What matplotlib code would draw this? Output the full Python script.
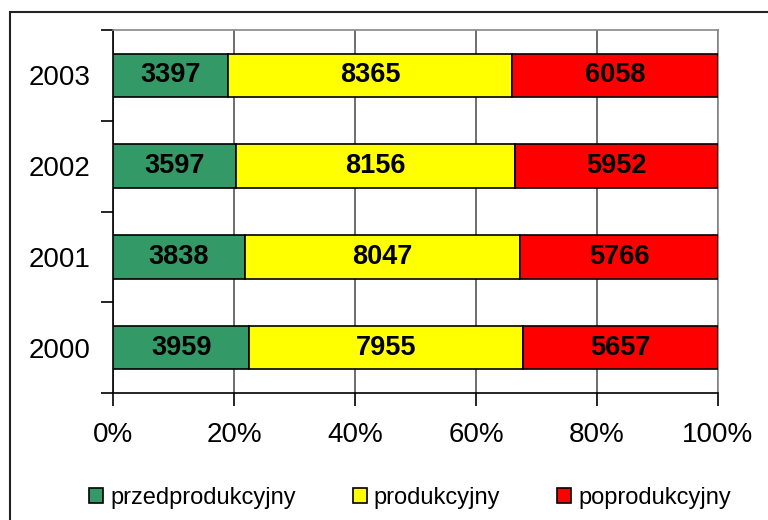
import matplotlib
matplotlib.use("Agg")
import matplotlib.pyplot as plt
from matplotlib.patches import Rectangle
import numpy as np

plt.rcParams['font.family'] = ['Liberation Sans', 'DejaVu Sans']

years = ['2000', '2001', '2002', '2003']
przed = [3959, 3838, 3597, 3397]
prod = [7955, 8047, 8156, 8365]
poprod = [5657, 5766, 5952, 6058]

series = [
    ('przedprodukcyjny', przed, '#339966'),
    ('produkcyjny', prod, '#FFFF00'),
    ('poprodukcyjny', poprod, '#FF0000'),
]

totals = np.array(przed) + np.array(prod) + np.array(poprod)

fig = plt.figure(figsize=(7.68, 5.2), dpi=100)
ax = fig.add_axes([113 / 768, 1 - 393 / 520, 605 / 768, 363 / 520])

y = np.arange(len(years))
left = np.zeros(len(years))
handles = []
for name, vals, color in series:
    share = np.array(vals) / totals * 100
    bars = ax.barh(y, share, left=left, height=0.48, color=color,
                   edgecolor='black', linewidth=1.2, label=name, zorder=3)
    ax.bar_label(bars, labels=[str(v) for v in vals], label_type='center',
                 fontsize=19.5, fontweight='bold', color='black')
    left += share
    handles.append(bars)

ax.set_xlim(0, 100)
ax.set_ylim(-0.5, len(years) - 0.5)
ax.set_xticks(np.arange(0, 101, 20))
ax.set_xticklabels([f'{v}%' for v in range(0, 101, 20)])
ax.set_yticks(y)
ax.set_yticklabels(years)
ax.set_yticks(np.arange(-0.5, len(years), 1), minor=True)
ax.tick_params(axis='y', which='major', length=0, pad=16.5, labelsize=20)
ax.tick_params(axis='y', which='minor', length=9, width=1.2, direction='out')
ax.tick_params(axis='x', length=9, width=1.2, direction='out', pad=12, labelsize=20)

ax.xaxis.grid(True, color='#555555', linewidth=1.2, zorder=0)
ax.set_axisbelow(True)
for side in ['top', 'right']:
    ax.spines[side].set_color('#888888')
    ax.spines[side].set_linewidth(1.2)
for side in ['left', 'bottom']:
    ax.spines[side].set_color('black')
    ax.spines[side].set_linewidth(1.2)

fig.legend(handles=handles, loc='center', bbox_to_anchor=(410 / 768, 1 - 498 / 520),
           ncol=3, frameon=False, fontsize=17, handlelength=0.6, handleheight=0.6,
           handletextpad=0.3, columnspacing=2.4, borderpad=0, borderaxespad=0)

# outer chart frame
fig.patches.append(Rectangle((10 / 768, -0.1), 2, 1 - 12 / 520 + 0.1,
                             transform=fig.transFigure, fill=False,
                             edgecolor='#222222', linewidth=1.5))

fig.savefig('out.png', dpi=100)
